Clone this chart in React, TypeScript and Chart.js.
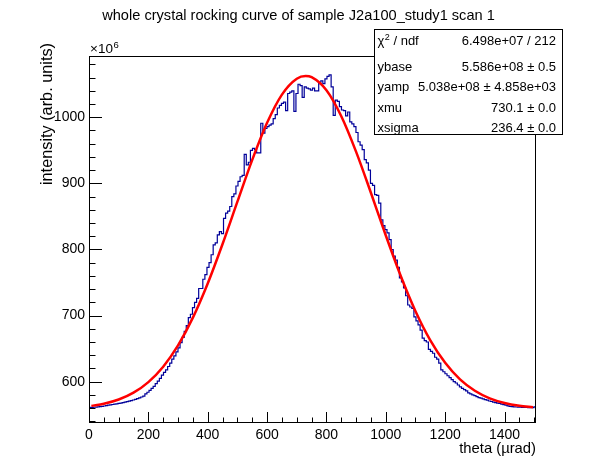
import React, { useEffect, useRef } from "react";
import { Chart, registerables } from "chart.js";

Chart.register(...registerables);

// ---- axis ranges (values in units of 10^6) ----
const X_MIN = 0;
const X_MAX = 1506;
const Y_MIN = 537.5;
const Y_MAX = 1092.7;

// ---- histogram: 216 equal bins over [X_MIN, X_MAX] ----
const histValues = [
  561.0, 561.1, 561.3, 561.5, 561.8, 562.2, 562.7, 563.2, 563.8, 564.4,
  565.0, 565.5, 566.0, 566.5, 567.1, 567.6, 568.3, 569.0, 569.8, 570.6,
  571.5, 572.3, 573.2, 574.3, 575.5, 576.8, 578.3, 581.5, 584.0, 587.0,
  590, 593, 597, 601, 605, 610, 614, 618, 623, 628,
  634, 639, 645, 651, 659, 667, 676, 685, 697, 702,
  712, 720, 726, 741, 741, 755, 762, 773, 780, 792,
  807, 810, 822, 827, 824, 847, 855, 858, 865, 880,
  884, 896, 903, 910, 912, 944, 928, 932, 950, 953,
  951, 946, 946, 991, 976, 983, 986, 988, 990, 998,
  1004, 1014, 1018, 1021, 1023, 1010, 1036, 1038, 1040, 1009,
  1036, 1050, 1048, 1030, 1046, 1044, 1043, 1041, 1044, 1040,
  1040, 1051, 1055, 1051, 1058, 1062, 1064, 1046, 1003, 1026,
  1024, 1016, 1011, 1010, 1002, 1008, 993, 990, 986, 977,
  963, 958, 951, 936, 931, 920, 900, 897, 883, 882,
  870, 845, 836, 830, 825, 815, 800, 790, 784, 773,
  757, 751, 742, 730, 716, 713, 711, 698, 692, 686,
  678, 666, 662, 660, 649, 646, 643, 637, 634, 628,
  618, 615, 612, 609, 606, 603, 600, 598, 595, 592,
  590, 588, 586, 583, 581.5, 580, 579, 577.5, 576, 575,
  574, 573, 572, 570.8, 570, 569, 568.3, 567.5, 567, 566,
  565.3, 564.5, 563.5, 562.7, 562.2, 561.9, 561.7, 561.5, 561.3, 561.2,
  561.1, 561.0, 560.9, 560.8, 560.8, 562.0,
];

// ---- fitted curve, sampled ----
const fitX = [
  8, 50, 100, 150, 200, 250, 300, 350, 400, 450, 500, 550, 600, 650, 700, 730,
  750, 800, 850, 900, 950, 1000, 1050, 1100, 1150, 1200, 1250, 1300, 1350, 1400,
  1450, 1496,
];
const fitY = [
  563.4, 566.6, 573.0, 583.4, 599.4, 622.7, 654.9, 696.9, 748.6, 808.3, 872.3,
  935.5, 991.6, 1034.3, 1058.3, 1062.4, 1060.6, 1040.9, 1001.6, 947.7, 885.5,
  821.1, 760.3, 706.7, 662.6, 628.5, 603.5, 586.2, 574.8, 567.7, 563.5, 561.3,
];

// ---- texts ----
const titleText = "whole crystal rocking curve of sample J2a100_study1 scan 1";
const xAxisTitle = "theta (\u00b5rad)";
const yAxisTitle = "intensity (arb. units)";
const statsNames = ["ybase", "yamp", "xmu", "xsigma"];
const statsValues = [
  "6.498e+07 / 212",
  "5.586e+08 \u00b1 0.5",
  "5.038e+08 \u00b1 4.858e+03",
  "730.1 \u00b1 0.0",
  "236.4 \u00b1 0.0",
];

const FONT = "'Liberation Sans', Arial, Helvetica, sans-serif";

const decorPlugin = {
  id: "rootDecor",
  afterDatasetsDraw(chart: any) {
    const { ctx, chartArea: a, scales } = chart;
    const x = scales.x;
    const y = scales.y;
    ctx.save();
    ctx.strokeStyle = "#000";
    ctx.lineWidth = 1;
    // frame
    ctx.strokeRect(a.left + 0.5, a.top + 0.5, a.right - a.left - 1, a.bottom - a.top - 1);
    // x ticks (inward)
    ctx.beginPath();
    for (let v = 0; v <= X_MAX; v += 50) {
      const px = Math.round(x.getPixelForValue(v)) + 0.5;
      const len = v % 200 === 0 ? 11 : 5.5;
      ctx.moveTo(px, a.bottom);
      ctx.lineTo(px, a.bottom - len);
    }
    // y ticks (inward)
    for (let v = 540; v <= Y_MAX; v += 20) {
      const py = Math.round(y.getPixelForValue(v)) + 0.5;
      const len = v % 100 === 0 ? 13 : 6.5;
      ctx.moveTo(a.left, py);
      ctx.lineTo(a.left + len, py);
    }
    ctx.stroke();

    ctx.fillStyle = "#000";
    // exponent label
    ctx.font = `13.5px ${FONT}`;
    ctx.textAlign = "left";
    ctx.textBaseline = "alphabetic";
    ctx.fillText("\u00d710", a.left + 1, a.top - 3);
    const w10 = ctx.measureText("\u00d710").width;
    ctx.font = `9.5px ${FONT}`;
    ctx.fillText("6", a.left + 1 + w10 + 0.5, a.top - 8);

    // title
    ctx.font = `14.6px ${FONT}`;
    ctx.textAlign = "center";
    ctx.fillText(titleText, 298.5, 20);

    // x axis title
    ctx.font = `14.8px ${FONT}`;
    ctx.textAlign = "right";
    ctx.fillText(xAxisTitle, a.right, 453);

    // y axis title
    ctx.save();
    ctx.font = `16.3px ${FONT}`;
    ctx.translate(51.5, 43);
    ctx.rotate(-Math.PI / 2);
    ctx.textAlign = "right";
    ctx.fillText(yAxisTitle, 0, 0);
    ctx.restore();

    // stats box
    const bx = 374, by = 29, bw = 189, bh = 106;
    ctx.fillStyle = "#fff";
    ctx.fillRect(bx, by, bw, bh);
    ctx.strokeStyle = "#000";
    ctx.strokeRect(bx + 0.5, by + 0.5, bw - 1, bh - 1);
    ctx.fillStyle = "#000";
    const baselines = [45, 70.5, 91, 111.5, 131.5];
    const lx = 377.5;
    const rx = 556;
    ctx.font = `13px ${FONT}`;
    ctx.textAlign = "left";
    // chi2 / ndf
    ctx.fillText("\u03c7", lx, baselines[0]);
    const wc = ctx.measureText("\u03c7").width;
    ctx.font = `9px ${FONT}`;
    ctx.fillText("2", lx + wc + 0.5, baselines[0] - 5.5);
    const w2 = ctx.measureText("2").width;
    ctx.font = `13px ${FONT}`;
    ctx.fillText(" / ndf", lx + wc + 0.5 + w2, baselines[0]);
    statsNames.forEach((n, i) => ctx.fillText(n, lx, baselines[i + 1]));
    ctx.textAlign = "right";
    statsValues.forEach((s, i) => ctx.fillText(s, rx, baselines[i]));
    ctx.restore();
  },
};

export default function App() {
  const ref = useRef<HTMLCanvasElement | null>(null);

  useEffect(() => {
    if (!ref.current) return;
    const binW = (X_MAX - X_MIN) / histValues.length;
    const histPts: { x: number; y: number }[] = [];
    histValues.forEach((v, i) => {
      histPts.push({ x: X_MIN + i * binW, y: v });
      histPts.push({ x: X_MIN + (i + 1) * binW, y: v });
    });
    const fitPts = fitX.map((xv, i) => ({ x: xv, y: fitY[i] }));

    Chart.defaults.font.family = FONT;
    Chart.defaults.color = "#000";

    const chart = new Chart(ref.current, {
      type: "line",
      data: {
        datasets: [
          {
            label: "fit",
            data: fitPts,
            borderColor: "#ff0000",
            borderWidth: 2.5,
            pointRadius: 0,
            cubicInterpolationMode: "monotone",
            fill: false,
          },
          {
            label: "hist",
            data: histPts,
            borderColor: "#000099",
            borderWidth: 1.2,
            pointRadius: 0,
            tension: 0,
            fill: false,
          },
        ],
      },
      options: {
        animation: false,
        responsive: false,
        events: [],
        layout: { padding: { top: 56, right: 60, left: 0, bottom: 0 } },
        plugins: { legend: { display: false }, tooltip: { enabled: false }, title: { display: false } },
        scales: {
          x: {
            type: "linear",
            min: X_MIN,
            max: X_MAX,
            grid: { display: false, drawTicks: false },
            border: { display: false },
            ticks: {
              stepSize: 200,
              includeBounds: false,
              autoSkip: false,
              maxRotation: 0,
              padding: 4,
              font: { size: 14 },
              callback: (v: any) => String(v),
            },
            afterFit: (s: any) => {
              s.height = 49;
            },
          },
          y: {
            type: "linear",
            min: Y_MIN,
            max: Y_MAX,
            grid: { display: false, drawTicks: false },
            border: { display: false },
            ticks: {
              stepSize: 100,
              includeBounds: false,
              autoSkip: false,
              padding: 4,
              font: { size: 14 },
              callback: (v: any) => String(v),
            },
            afterFit: (s: any) => {
              s.width = 89;
            },
          },
        },
      },
      plugins: [decorPlugin],
    } as any);
    return () => chart.destroy();
  }, []);

  return (
    <div style={{ position: "fixed", left: 0, top: 0, width: 596, height: 472, background: "#fff" }}>
      <canvas ref={ref} width={596} height={472} style={{ width: 596, height: 472, display: "block" }} />
    </div>
  );
}
